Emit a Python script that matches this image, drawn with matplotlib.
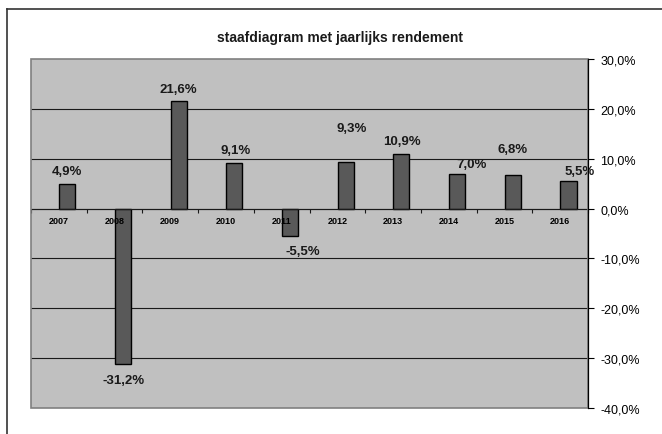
import matplotlib.pyplot as plt
import numpy as np
from matplotlib.lines import Line2D
from matplotlib.patches import Rectangle
from matplotlib.ticker import FuncFormatter, MultipleLocator

plt.rcParams['font.family'] = ['Liberation Sans', 'DejaVu Sans']

# data
years = ['2007', '2008', '2009', '2010', '2011', '2012', '2013', '2014', '2015', '2016']
rendement = [4.9, -31.2, 21.6, 9.1, -5.5, 9.3, 10.9, 7.0, 6.8, 5.5]

# hand-placed data labels (pixel offsets from the bar end)
label_dx = [0, 1, 0, 1, 13, 6, 1, 14, 0, 11]
label_dy = [13.5, 16, 12, 13.5, 15, 34.5, 13.5, 10, 25.5, 10.5]

W, H = 662, 435
fig = plt.figure(figsize=(W / 100, H / 100), dpi=100)
ax = fig.add_axes([31 / W, 1 - 409 / H, (588 - 31) / W, (409 - 60) / H])
ax.set_facecolor('#c0c0c0')
ax.set_axisbelow(False)  # category labels drawn on top of the bars

n = len(years)
centers = np.arange(n) + 0.5
bar_x = centers + 0.15
ax.bar(bar_x, rendement, width=0.29, color='#595959', edgecolor='black', linewidth=1.0, zorder=2)

for x, v, dx, dy in zip(bar_x, rendement, label_dx, label_dy):
    sign = 1 if v >= 0 else -1
    ax.annotate(f"{v:.1f}%".replace('.', ','), (x, v), xytext=(dx, sign * dy),
                textcoords='offset pixels', ha='center', va='center',
                fontsize=9.5, fontweight='bold', color='#1a1a1a', zorder=3)

ax.set_xlim(0, n)
ax.set_ylim(-40, 30)

# y axis on the right
ax.yaxis.tick_right()
ax.yaxis.set_major_locator(MultipleLocator(10))
ax.yaxis.set_major_formatter(FuncFormatter(lambda v, p: f"{v:.1f}%".replace('.', ',')))
ax.tick_params(axis='y', direction='out', length=4, width=0.8, pad=5, labelsize=9, colors='black')

# gridlines behind the bars
ax.hlines(np.arange(-30, 30, 10), 0, n, color='#1a1a1a', linewidth=0.8, zorder=1)

# x axis crossing at zero
ax.spines['bottom'].set_position(('data', 0))
ax.spines['bottom'].set_color('#1a1a1a')
ax.spines['bottom'].set_linewidth(0.8)
ax.set_xticks(np.arange(n + 1))
ax.set_xticklabels([])
ax.set_xticks(centers, minor=True)
ax.set_xticklabels(years, minor=True)
ax.tick_params(axis='x', which='major', direction='out', length=3, width=0.8, color='#1a1a1a')
ax.tick_params(axis='x', which='minor', length=0, pad=5, labelsize=6.5)
for lbl in ax.get_xticklabels(minor=True):
    lbl.set_fontweight('bold')

ax.spines['left'].set_visible(False)
ax.spines['top'].set_visible(False)
ax.spines['right'].set_color('black')
ax.spines['right'].set_linewidth(0.9)
ax.spines['right'].set_zorder(4)

# gray plot-area border
ax.add_patch(Rectangle((0, 0), 1, 1, transform=ax.transAxes, fill=False,
                       edgecolor='#808080', linewidth=1.2, zorder=3.5, clip_on=False))

# outer chart frame (partly cropped)
fig.add_artist(Line2D([7 / W, 7 / W], [0, 1 - 10 / H], color='#333333', linewidth=1.2))
fig.add_artist(Line2D([7 / W, 1], [1 - 10 / H, 1 - 10 / H], color='#333333', linewidth=1.2))

fig.text(340 / W, 1 - 38 / H, 'staafdiagram met jaarlijks rendement', ha='center', va='center',
         fontsize=10, fontweight='bold', color='#1a1a1a')

plt.savefig('out.png', dpi=100)
